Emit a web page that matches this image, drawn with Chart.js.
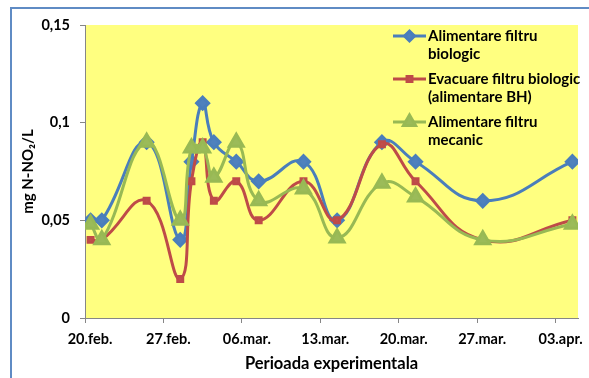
<!DOCTYPE html>
<html>
<head>
<meta charset="utf-8">
<script src="https://cdn.jsdelivr.net/npm/chart.js@4/dist/chart.umd.min.js"></script>
<style>
	html, body { margin: 0; padding: 0; background: #fff; overflow: hidden; }
	#cadru { position: absolute; left: 10px; top: 7px; width: 600px; height: 400px;
		border-left: 2px solid #5F8BC4; border-top: 2px solid #5F8BC4;
		box-shadow: -1px -1px 0 #A9BED8 inset; pointer-events: none; }
	#graficNitriti { position: absolute; left: 0; top: 0; }
</style>
</head>
<body>
<canvas id="graficNitriti" width="589" height="378"></canvas>
<div id="cadru"></div>
<script>
// zile de la 20.feb. (axa de date Excel: punctul e pus la mijlocul zilei)
var zile = [0, 1, 5, 8, 9, 10, 11, 13, 15, 19, 22, 26, 29, 35, 43];

var alimentareFiltruBiologic = [0.05, 0.05, 0.09, 0.04, 0.08, 0.11, 0.09, 0.08, 0.07, 0.08, 0.05, 0.09, 0.08, 0.06, 0.08];
var evacuareFiltruBiologic   = [0.04, 0.04, 0.06, 0.02, 0.07, 0.09, 0.06, 0.07, 0.05, 0.07, 0.05, 0.089, 0.07, 0.04, 0.05];
var alimentareFiltruMecanic  = [0.048, 0.04, 0.09, 0.05, 0.087, 0.087, 0.072, 0.09, 0.06, 0.066, 0.041, 0.069, 0.062, 0.04, 0.048];

var etichetePerioada = ['20.feb.', '27.feb.', '06.mar.', '13.mar.', '20.mar.', '27.mar.', '03.apr.'];
var pozitiiPerioada = [0, 7, 14, 21, 28, 35, 42];
var valoriAxaY = [0, 0.05, 0.1, 0.15];
var eticheteAxaY = ['0', '0,05', '0,1', '0,15'];

var FONT = 'Lato, Carlito, Calibri, sans-serif';

function puncte(valori){
	return valori.map(function(v, i){
		return { x: zile[i] + 0.5, y: v };
	});
}

var fundalGrafic = {
	id: 'fundalGrafic',
	beforeDraw: function(chart){
		var a = chart.chartArea;
		var ctx = chart.ctx;
		ctx.save();
		ctx.fillStyle = '#FFFF80';
		ctx.fillRect(a.left, a.top, a.right - a.left, a.bottom - a.top);
		ctx.restore();
	}
};

// legenda Excel: in interiorul zonei, text pe doua randuri
var legendaInterior = {
	id: 'legendaInterior',
	afterDraw: function(chart){
		var ctx = chart.ctx;
		var x0 = 393, x1 = 426, y = 36;
		ctx.save();
		chart.data.datasets.forEach(function(ds){
			ctx.strokeStyle = ds.borderColor;
			ctx.lineWidth = ds.borderWidth;
			ctx.beginPath();
			ctx.moveTo(x0, y);
			ctx.lineTo(x1, y);
			ctx.stroke();
			ctx.fillStyle = ds.pointBackgroundColor;
			ctx.strokeStyle = ds.pointBorderColor;
			Chart.helpers.drawPoint(ctx, {
				pointStyle: ds.pointStyle,
				radius: ds.legendRadius,
				rotation: 0,
				borderWidth: 1
			}, (x0 + x1) / 2, y);
			ctx.fillStyle = '#000';
			ctx.font = 'bold 15px ' + FONT;
			ctx.textBaseline = 'middle';
			ds.eticheta.forEach(function(rand, i){
				ctx.fillText(rand, x1 + 2, y + i * 18);
			});
			y += 43;
		});
		ctx.restore();
	}
};

var grafic = new Chart(document.getElementById('graficNitriti').getContext('2d'), {
	type: 'line',
	data: {
		datasets: [
			{
				label: 'Alimentare filtru biologic',
				eticheta: ['Alimentare filtru', 'biologic'],
				data: puncte(alimentareFiltruBiologic),
				borderColor: '#4A7EBB',
				pointBackgroundColor: '#4F81BD',
				pointBorderColor: '#4A7EBB',
				pointStyle: 'rectRot',
				pointRadius: 6,
				legendRadius: 5,
				borderWidth: 3,
				tension: 0.45,
				order: 2
			},
			{
				label: 'Evacuare filtru biologic (alimentare BH)',
				eticheta: ['Evacuare filtru biologic', '(alimentare BH)'],
				data: puncte(evacuareFiltruBiologic),
				borderColor: '#BE4B48',
				pointBackgroundColor: '#C0504D',
				pointBorderColor: '#BE4B48',
				pointStyle: 'rect',
				pointRadius: 3.5,
				legendRadius: 3.5,
				borderWidth: 3,
				tension: 0.45,
				order: 1
			},
			{
				label: 'Alimentare filtru mecanic',
				eticheta: ['Alimentare filtru', 'mecanic'],
				data: puncte(alimentareFiltruMecanic),
				borderColor: '#98B954',
				pointBackgroundColor: '#9BBB59',
				pointBorderColor: '#98B954',
				pointStyle: 'triangle',
				pointRadius: 8,
				legendRadius: 7,
				borderWidth: 3,
				tension: 0.45,
				order: 0
			}
		]
	},
	options: {
		responsive: false,
		animation: false,
		devicePixelRatio: 1,
		layout: { padding: { left: 19, right: 4, top: 25, bottom: 4 } },
		plugins: {
			legend: { display: false },
			tooltip: { enabled: false }
		},
		scales: {
			x: {
				type: 'linear',
				min: 0,
				max: 44,
				afterBuildTicks: function(scale){
					scale.ticks = pozitiiPerioada.map(function(v){ return { value: v }; });
				},
				afterFit: function(scale){ scale.height = 56; },
				ticks: {
					autoSkip: false,
					maxRotation: 0,
					padding: 8,
					labelOffset: 5,
					color: '#000',
					font: { family: FONT, size: 14.5, weight: 'bold' },
					callback: function(value, index){ return etichetePerioada[index]; }
				},
				grid: { display: true, drawOnChartArea: false, drawTicks: true, tickLength: 5, color: '#868686' },
				border: { display: true, color: '#868686', width: 1 },
				title: {
					display: true,
					text: 'Perioada experimentala',
					color: '#000',
					padding: 0,
					font: { family: FONT, size: 16.5, weight: 'bold' }
				}
			},
			y: {
				min: 0,
				max: 0.15,
				afterBuildTicks: function(scale){
					scale.ticks = valoriAxaY.map(function(v){ return { value: v }; });
				},
				afterFit: function(scale){ scale.width = 66; },
				ticks: {
					padding: 10,
					color: '#000',
					font: { family: FONT, size: 14.5, weight: 'bold' },
					callback: function(value, index){ return eticheteAxaY[index]; }
				},
				grid: { display: true, drawOnChartArea: false, drawTicks: true, tickLength: 5, color: '#868686' },
				border: { display: true, color: '#868686', width: 1 },
				title: {
					display: true,
					text: 'mg N-NO\u2082/L',
					color: '#000',
					padding: 0,
					font: { family: FONT, size: 15, weight: 'bold' }
				}
			}
		}
	},
	plugins: [fundalGrafic, legendaInterior]
});
</script>
</body>
</html>
